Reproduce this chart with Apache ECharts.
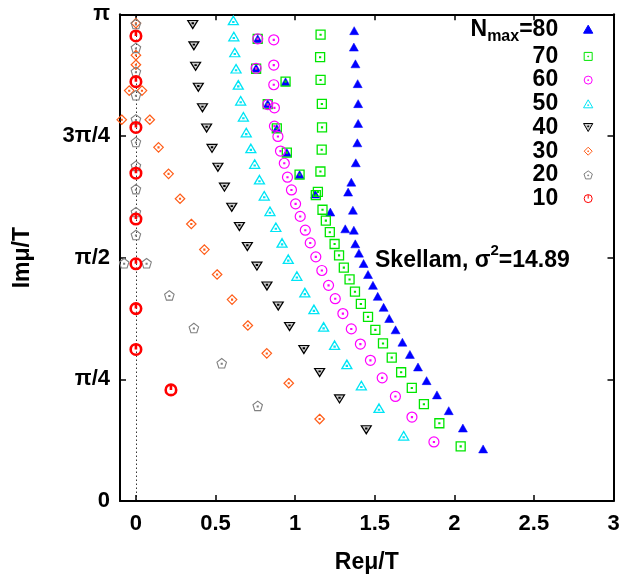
<!DOCTYPE html>
<html><head><meta charset="utf-8">
<script src="https://cdn.jsdelivr.net/npm/echarts@6/dist/echarts.min.js"></script>
<style>html,body{margin:0;padding:0;background:#fff}#c{width:623px;height:579px}</style>
</head><body><div id="c"></div>
<script>
// ---- data (Re mu/T, Im mu/T) ----
const seriesNames = ['80', '70', '60', '50', '40', '30', '20', '10'];
const xTickValues = [0, 0.5, 1, 1.5, 2, 2.5, 3];
const yTickLabels = ['0', 'π/4', 'π/2', '3π/4', 'π'];

const zeros80 = [
  [1.371,3.036],[1.369,2.930],[1.379,2.822],[1.393,2.694],[1.396,2.565],[1.396,2.437],[1.391,2.312],
  [1.381,2.183],[1.353,2.058],[1.333,1.994],[1.363,1.877],[1.315,1.757],[1.369,1.748],[1.378,1.660],
  [1.401,1.600],[1.430,1.533],[1.458,1.462],[1.489,1.392],[1.519,1.321],[1.556,1.250],[1.591,1.178],
  [1.631,1.105],[1.674,1.025],[1.721,0.946],[1.772,0.865],[1.826,0.777],[1.891,0.685],[1.965,0.583],
  [2.054,0.471],[2.181,0.336],
  [0.765,2.983],[0.755,2.795],[0.940,2.707],[0.828,2.565],[0.885,2.405],[0.948,2.249],[1.028,2.107],
  [1.126,1.981],[1.221,1.865]
];
const zeros70 = [
  [1.160,3.010],[1.157,2.865],[1.160,2.718],[1.168,2.563],[1.169,2.412],[1.167,2.268],[1.159,2.127],
  [1.143,1.995],[1.130,1.974],[1.172,1.880],[1.193,1.810],[1.218,1.735],[1.248,1.659],[1.276,1.586],
  [1.306,1.507],[1.342,1.430],[1.376,1.351],[1.413,1.272],[1.458,1.189],[1.504,1.105],[1.552,1.017],
  [1.607,0.926],[1.666,0.831],[1.733,0.730],[1.809,0.625],[1.906,0.502],[2.040,0.353],
  [0.765,2.983],[0.755,2.790],[0.940,2.707],[0.828,2.562],[0.885,2.405],[0.948,2.249],[1.028,2.107]
];
const zeros60 = [
  [0.765,2.983],[0.866,2.977],[0.755,2.793],[0.866,2.814],[0.866,2.687],[0.828,2.559],[0.870,2.538],
  [0.870,2.420],[0.892,2.353],[0.908,2.259],[0.932,2.180],[0.952,2.090],[0.977,2.008],[1.003,1.918],
  [1.032,1.837],[1.064,1.748],[1.095,1.666],[1.130,1.576],[1.168,1.488],[1.210,1.392],[1.252,1.306],
  [1.300,1.210],[1.353,1.111],[1.410,1.013],[1.473,0.908],[1.547,0.795],[1.630,0.675],[1.734,0.542],
  [1.872,0.381]
];
const zeros50 = [
  [0.612,3.102],[0.615,2.998],[0.621,2.895],[0.629,2.790],[0.643,2.686],[0.658,2.583],[0.675,2.480],
  [0.693,2.378],[0.722,2.276],[0.746,2.175],[0.776,2.074],[0.806,1.970],[0.842,1.870],[0.879,1.767],
  [0.918,1.666],[0.957,1.561],[1.011,1.452],[1.061,1.345],[1.118,1.237],[1.179,1.124],[1.248,1.006],
  [1.325,0.882],[1.416,0.745],[1.527,0.599],[1.682,0.421]
];
const zeros40 = [
  [0.357,3.076],[0.364,2.938],[0.375,2.806],[0.392,2.671],[0.418,2.538],[0.444,2.408],[0.478,2.276],
  [0.515,2.154],[0.556,2.026],[0.602,1.896],[0.650,1.772],[0.700,1.643],[0.760,1.516],[0.823,1.388],
  [0.894,1.259],[0.965,1.126],[1.055,0.978],[1.154,0.829],[1.279,0.659],[1.447,0.460]
];
const zeros30 = [
  [0,3.084],[0,2.878],[0,2.816],[-0.042,2.649],[0.038,2.649],[-0.089,2.461],[0.087,2.461],
  [0.142,2.283],[0.205,2.112],[0.277,1.951],[0.348,1.788],[0.430,1.623],[0.510,1.462],[0.604,1.300],
  [0.703,1.133],[0.822,0.953],[0.960,0.760],[1.154,0.529]
];
const zeros20 = [
  [0,3.079],[0,2.925],[0,2.771],[0,2.619],[0,2.463],[0,2.317],[0,2.163],[0,2.013],[0,1.865],[0,1.717],
  [-0.074,1.535],[0.067,1.535],[0.210,1.327],[0.364,1.117],[0.539,0.889],[0.765,0.614]
];
const zeros10 = [
  [0,3.002],[0,2.707],[0,2.411],[0,2.116],[0,1.820],[0,1.531],[0,1.242],[0,0.978],[0.220,0.717]
];

// ---- styling ----
const DOT = ' M4.5,4.6 L5.5,4.6 L5.5,5.5 L4.5,5.5 Z';
const SYM = {
  up: 'path://M5,0 L10,8.66 L0,8.66 Z',
  upDot: 'path://M5,0 L10,8.66 L0,8.66 Z M4.5,5.4 L5.5,5.4 L5.5,6.3 L4.5,6.3 Z',
  down: 'path://M0,0 L10,0 L5,8.66 Z M4.5,2.6 L5.5,2.6 L5.5,3.5 L4.5,3.5 Z',
  square: 'path://M0,0 L10,0 L10,10 L0,10 Z' + DOT,
  circle: 'path://M10,5 A5,5 0 1 1 0,5 A5,5 0 1 1 10,5 Z' + DOT,
  ring: 'path://M10,5 A5,5 0 1 1 0,5 A5,5 0 1 1 10,5 Z M5,0.5 L5,5',
  diamond: 'path://M5,0 L10,5 L5,10 L0,5 Z' + DOT,
  pentagon: 'path://M5,0 L9.755,3.455 L7.939,9.045 L2.061,9.045 L0.245,3.455 Z' + DOT
};
const dataMap = {'80': zeros80, '70': zeros70, '60': zeros60, '50': zeros50, '40': zeros40, '30': zeros30, '20': zeros20, '10': zeros10};
const styleMap = {
  '80': {symbol: SYM.up, size: [9, 8], fill: '#0000ff', stroke: '#0000ff', bw: 0.5},
  '70': {symbol: SYM.square, size: [9, 9], fill: 'rgba(0,0,0,0)', stroke: '#00e600', bw: 1.3},
  '60': {symbol: SYM.circle, size: [10, 10], fill: 'rgba(0,0,0,0)', stroke: '#ff00ff', bw: 1.2},
  '50': {symbol: SYM.upDot, size: [10, 8.5], fill: 'rgba(0,0,0,0)', stroke: '#00e5f5', bw: 1.3},
  '40': {symbol: SYM.down, size: [10, 8], fill: 'rgba(110,110,110,0.35)', stroke: '#000000', bw: 1.2},
  '30': {symbol: SYM.diamond, size: [9.5, 9.5], fill: 'rgba(0,0,0,0)', stroke: '#ff5e1a', bw: 1.2},
  '20': {symbol: SYM.pentagon, size: [9.5, 9.5], fill: 'rgba(0,0,0,0)', stroke: '#808080', bw: 1.1},
  '10': {symbol: SYM.ring, size: [10.5, 10.5], fill: 'rgba(0,0,0,0)', stroke: '#ff0000', bw: 2.6}
};

const FONT = '"Liberation Sans", Arial, Helvetica, sans-serif';
const yTickValues = yTickLabels.map((_, i) => i * Math.PI / 4);

const series = seriesNames.map((name, idx) => {
  const st = styleMap[name];
  const s = {
    name: name,
    type: 'scatter',
    data: dataMap[name],
    symbol: st.symbol,
    symbolSize: st.size,
    symbolKeepAspect: false,
    itemStyle: {color: st.fill, borderColor: st.stroke, borderWidth: st.bw, opacity: 1},
    emphasis: {disabled: true},
    silent: true,
    z: 3 + idx
  };
  if (name === '10') {
    s.markLine = {
      silent: true, symbol: 'none', label: {show: false},
      lineStyle: {color: '#000', type: [1.5, 2.5], width: 0.8},
      data: [{xAxis: 0}],
      z: 1
    };
  }
  return s;
});

const chart = echarts.init(document.getElementById('c'), null, {renderer: 'canvas'});
const axisCommon = {
  axisLine: {show: true, onZero: false, lineStyle: {color: '#000', width: 2}},
  splitLine: {show: false}
};
chart.setOption({
  animation: false,
  backgroundColor: '#fff',
  textStyle: {fontFamily: FONT},
  grid: {left: 120, right: 9.5, top: 14.3, bottom: 75.7, containLabel: false},
  xAxis: [
    Object.assign({}, axisCommon, {
      type: 'value', min: -0.1, max: 3, position: 'bottom',
      name: 'Reμ/T', nameLocation: 'middle', nameGap: 50,
      nameTextStyle: {fontFamily: FONT, fontSize: 23, fontWeight: 'bold', color: '#000'},
      axisTick: {show: true, inside: true, length: 6, lineStyle: {color: '#000', width: 1.5}, customValues: xTickValues},
      axisLabel: {show: true, margin: 12, fontFamily: FONT, fontSize: 22, fontWeight: 'bold', color: '#000',
        customValues: xTickValues, formatter: v => String(v)}
    }),
    Object.assign({}, axisCommon, {
      type: 'value', min: -0.1, max: 3, position: 'top',
      axisTick: {show: true, inside: true, length: 6, lineStyle: {color: '#000', width: 1.5}, customValues: xTickValues},
      axisLabel: {show: false}
    })
  ],
  yAxis: [
    Object.assign({}, axisCommon, {
      type: 'value', min: 0, max: Math.PI, position: 'left',
      name: 'Imμ/T', nameLocation: 'middle', nameGap: 86,
      nameTextStyle: {fontFamily: FONT, fontSize: 23, fontWeight: 'bold', color: '#000'},
      axisTick: {show: true, inside: true, length: 6, lineStyle: {color: '#000', width: 1.5}, customValues: yTickValues},
      axisLabel: {show: true, margin: 10, fontFamily: FONT, fontSize: 22, fontWeight: 'bold', color: '#000',
        customValues: yTickValues, formatter: v => yTickLabels[Math.round(v / (Math.PI / 4))]}
    }),
    Object.assign({}, axisCommon, {
      type: 'value', min: 0, max: Math.PI, position: 'right',
      axisTick: {show: true, inside: true, length: 6, lineStyle: {color: '#000', width: 1.5}, customValues: yTickValues},
      axisLabel: {show: false}
    })
  ],
  legend: {
    show: true,
    orient: 'vertical',
    align: 'right',
    right: 29.7,
    top: 14.2,
    padding: 0,
    itemGap: 0.7,
    itemWidth: 50,
    itemHeight: 8,
    selectedMode: false,
    data: seriesNames,
    itemStyle: {borderWidth: 1},
    formatter: name => name === '80' ? '{b|N}{s|max}{b|=80}' : '{b|' + name + '}',
    textStyle: {
      fontFamily: FONT, color: '#000',
      rich: {
        b: {fontFamily: FONT, fontSize: 23, fontWeight: 'bold', lineHeight: 24, color: '#000'},
        s: {fontFamily: FONT, fontSize: 16, fontWeight: 'bold', lineHeight: 10, padding: [14, 0, 0, 0], color: '#000'}
      }
    }
  },
  graphic: [{
    type: 'text', x: 375, y: 261, silent: true,
    style: {
      text: '{a|Skellam, σ}{p|2}{a|=14.89}',
      verticalAlign: 'middle',
      fill: '#000',
      rich: {
        a: {fontFamily: FONT, fontSize: 23, fontWeight: 'bold', lineHeight: 26, fill: '#000'},
        p: {fontFamily: FONT, fontSize: 15, fontWeight: 'bold', lineHeight: 6, padding: [0, 0, 20, 0], fill: '#000'}
      }
    }
  }],
  series: series
});
</script>
</body></html>
